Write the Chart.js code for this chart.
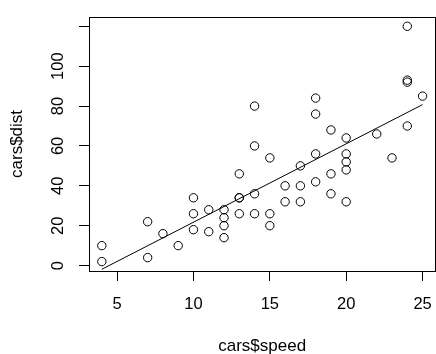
<!DOCTYPE html>
<html>
<head>
<meta charset="utf-8">
<script src="https://cdn.jsdelivr.net/npm/chart.js@4"></script>
<style>
  html, body { margin: 0; padding: 0; overflow: hidden; background: #fff; }
  #wrap { width: 446px; height: 354px; }
</style>
</head>
<body>
<div id="wrap"><canvas id="myChart"></canvas></div>
<script>
// cars data set
let speed = [4, 4, 7, 7, 8, 9, 10, 10, 10, 11, 11, 12, 12, 12, 12, 13, 13, 13, 13, 14,
             14, 14, 14, 15, 15, 15, 16, 16, 17, 17, 17, 18, 18, 18, 18, 19, 19, 19, 20, 20,
             20, 20, 20, 22, 23, 24, 24, 24, 24, 25];
let dist = [2, 10, 4, 22, 16, 10, 18, 26, 34, 17, 28, 14, 20, 24, 28, 26, 34, 34, 46, 26,
            36, 60, 80, 20, 26, 54, 32, 40, 32, 40, 50, 42, 56, 76, 84, 36, 46, 68, 32, 48,
            52, 56, 64, 66, 54, 70, 92, 93, 120, 85];
// fitted line end points
let fitX = [4, 25];
let fitY = [-1.85, 80.73];
let xTicks = [5, 10, 15, 20, 25];
let yTicks = [0, 20, 40, 60, 80, 100, 120];

let fontFamily = '"Liberation Sans", Arial, Helvetica, sans-serif';

let boxPlugin = {
    id: 'box',
    afterDraw(chart) {
        let a = chart.chartArea;
        let ctx = chart.ctx;
        ctx.save();
        ctx.strokeStyle = '#000';
        ctx.lineWidth = 1;
        ctx.strokeRect(Math.round(a.left) + 0.5, Math.round(a.top) + 0.5,
                       Math.round(a.right - a.left), Math.round(a.bottom - a.top));
        ctx.restore();
    }
};

let myChart = document.getElementById('myChart').getContext('2d');
let chart = new Chart(myChart, {
    type: 'scatter',
    data: {
        datasets: [
            {
                data: speed.map((s, i) => ({x: s, y: dist[i]})),
                pointRadius: 4.2,
                pointHoverRadius: 4.2,
                pointBorderWidth: 1,
                pointBorderColor: '#000',
                pointBackgroundColor: 'transparent',
                showLine: false
            },
            {
                type: 'line',
                data: fitX.map((x, i) => ({x: x, y: fitY[i]})),
                borderColor: '#000',
                borderWidth: 1,
                pointRadius: 0,
                fill: false
            }
        ]
    },
    options: {
        responsive: true,
        maintainAspectRatio: false,
        animation: false,
        layout: { padding: { top: 9, right: 7, left: 0, bottom: 0 } },
        plugins: {
            legend: { display: false },
            tooltip: { enabled: false }
        },
        scales: {
            x: {
                type: 'linear',
                min: 3.16,
                max: 25.84,
                afterFit: s => { s.height = 83; },
                afterBuildTicks: s => { s.ticks = xTicks.map(v => ({value: v})); },
                grid: { drawOnChartArea: false, drawTicks: true, tickLength: 10, tickColor: '#000', tickWidth: 1 },
                border: { display: false },
                ticks: {
                    color: '#000',
                    font: { family: fontFamily, size: 16.5 },
                    padding: 14,
                    maxRotation: 0,
                    minRotation: 0
                },
                title: {
                    display: true,
                    text: 'cars$speed',
                    color: '#000',
                    font: { family: fontFamily, size: 17, lineHeight: 0.85 },
                    padding: 0
                }
            },
            y: {
                type: 'linear',
                min: -2.72,
                max: 124.72,
                afterFit: s => { s.width = 89; },
                afterBuildTicks: s => { s.ticks = yTicks.map(v => ({value: v})); },
                grid: { drawOnChartArea: false, drawTicks: true, tickLength: 10, tickColor: '#000', tickWidth: 1 },
                border: { display: false },
                ticks: {
                    color: '#000',
                    font: { family: fontFamily, size: 16.5 },
                    padding: 7,
                    minRotation: 90,
                    maxRotation: 90,
                    crossAlign: 'center',
                    callback: v => v === 120 ? '' : v
                },
                title: {
                    display: true,
                    text: 'cars$dist',
                    color: '#000',
                    font: { family: fontFamily, size: 17, lineHeight: 1.2 },
                    padding: { top: 7, bottom: 0 }
                }
            }
        }
    },
    plugins: [boxPlugin]
});
</script>
</body>
</html>
